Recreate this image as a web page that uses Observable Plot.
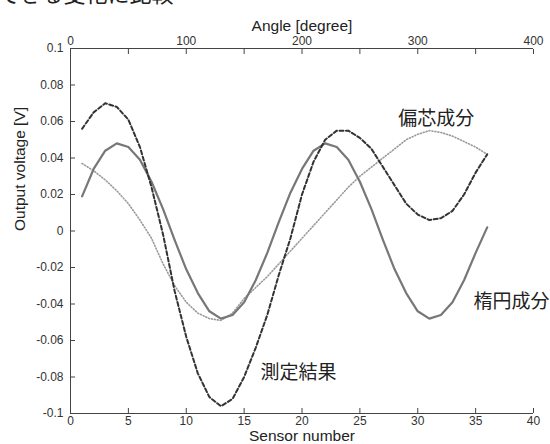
<!DOCTYPE html>
<html><head><meta charset="utf-8">
<script src="https://cdn.jsdelivr.net/npm/d3@7"></script>
<script src="https://cdn.jsdelivr.net/npm/@observablehq/plot@0.6"></script>
<style>
body{margin:0;background:#fff;overflow:hidden}
#wrap{position:relative;width:550px;height:444px;overflow:hidden;background:#fff}
#wrap svg{position:absolute;left:0;top:0}
#cut{position:absolute;left:-2px;top:-24px;font:22px "Noto Sans CJK JP";color:#222;white-space:nowrap;z-index:2}
</style></head><body>
<div id="wrap"><div id="cut">できる変化に比較</div></div>
<script>
// Sensor index (1..36), 10 degrees per sensor
const sensors = [1,2,3,4,5,6,7,8,9,10,11,12,13,14,15,16,17,18,19,20,21,22,23,24,25,26,27,28,29,30,31,32,33,34,35,36];
// 測定結果 (measurement result, dashed)
const measured = [0.056,0.065,0.070,0.068,0.061,0.046,0.024,-0.002,-0.033,-0.058,-0.078,-0.091,-0.096,-0.092,-0.080,-0.064,-0.046,-0.024,-0.004,0.020,0.038,0.050,0.055,0.055,0.051,0.045,0.035,0.025,0.015,0.009,0.006,0.007,0.011,0.020,0.032,0.042];
// 楕円成分 (elliptic component, solid)
const elliptic = [0.019,0.034,0.044,0.048,0.046,0.039,0.027,0.012,-0.005,-0.021,-0.034,-0.044,-0.048,-0.046,-0.039,-0.027,-0.012,0.005,0.021,0.034,0.044,0.048,0.046,0.039,0.027,0.012,-0.005,-0.021,-0.034,-0.044,-0.048,-0.046,-0.039,-0.027,-0.012,0.002];
// 偏芯成分 (eccentric component, dotted)
const eccentric = [0.037,0.033,0.028,0.022,0.015,0.006,-0.004,-0.018,-0.030,-0.039,-0.045,-0.048,-0.049,-0.045,-0.037,-0.031,-0.025,-0.018,-0.011,-0.004,0.003,0.010,0.017,0.024,0.030,0.035,0.040,0.045,0.050,0.053,0.055,0.054,0.052,0.049,0.046,0.042];

const sensorTicks = [0,5,10,15,20,25,30,35,40];
const angleTicks = [0,50,100,150,200,250,300,350,400];
const angleTickLabels = [0,100,200,300,400];
const voltTicks = [-0.1,-0.08,-0.06,-0.04,-0.02,0,0.02,0.04,0.06,0.08,0.1];

const curveLabels = ["測定結果","偏芯成分","楕円成分"];
const curveLabelX = [19.7, 31.6, 38.1];
const curveLabelY = [-0.078, 0.0615, -0.039];

const xTitle = "Sensor number";
const topTitle = "Angle [degree]";
const yTitle = "Output voltage [V]";

const degPerSensor = 10;
const fmtV = d => String(+d.toFixed(2));

const chart = Plot.plot({
  width: 550, height: 444,
  marginLeft: 70, marginRight: 17, marginTop: 48, marginBottom: 31,
  x: {domain: [0, 40]},
  y: {domain: [-0.1, 0.1]},
  style: {fontFamily: "'Liberation Sans', Arial, sans-serif", fontSize: "12px", color: "#333", background: "#fff"},
  marks: [
    Plot.ruleY([voltTicks[0], voltTicks[voltTicks.length - 1]], {stroke: "#444"}),
    Plot.ruleX([sensorTicks[0]], {stroke: "#444"}),
    Plot.line(sensors, {x: sensors, y: eccentric, stroke: "#999", strokeWidth: 1.6, strokeDasharray: "1,2"}),
    Plot.line(sensors, {x: sensors, y: elliptic, stroke: "#777", strokeWidth: 2.2}),
    Plot.line(sensors, {x: sensors, y: measured, stroke: "#333", strokeWidth: 2, strokeDasharray: "4,2.5"}),
    Plot.axisX(sensorTicks, {anchor: "bottom", tickSize: -5, tickFormat: () => "", label: null, stroke: "#444"}),
    Plot.axisX(sensorTicks, {anchor: "bottom", tickSize: 0, tickPadding: 3, label: null, fill: "#333"}),
    Plot.axisX(angleTicks.map(a => a / degPerSensor), {anchor: "top", tickSize: -5, tickFormat: () => "", label: null, stroke: "#444"}),
    Plot.axisX(angleTickLabels.map(a => a / degPerSensor), {anchor: "top", tickSize: 0, tickPadding: 4, tickFormat: d => String(d * degPerSensor), label: null, fill: "#333"}),
    Plot.axisY(voltTicks, {anchor: "left", tickSize: -5, tickFormat: () => "", label: null, stroke: "#444"}),
    Plot.axisY(voltTicks, {anchor: "left", tickSize: 0, tickPadding: 7, tickFormat: fmtV, label: null, fill: "#333"}),
    Plot.text([xTitle], {frameAnchor: "bottom", dy: 27, fontSize: 15.5, fill: "#222"}),
    Plot.text([topTitle], {frameAnchor: "top", dy: -29, fontSize: 15.5, fill: "#222"}),
    Plot.text([yTitle], {frameAnchor: "left", rotate: -90, dx: -50, fontSize: 15.5, fill: "#222"}),
    Plot.text(curveLabels, {x: curveLabelX, y: curveLabelY, text: d => d, fontSize: 19, fontFamily: "'Noto Sans CJK JP'", fill: "#222"})
  ]
});
document.getElementById("wrap").appendChild(chart);
</script>
</body></html>
